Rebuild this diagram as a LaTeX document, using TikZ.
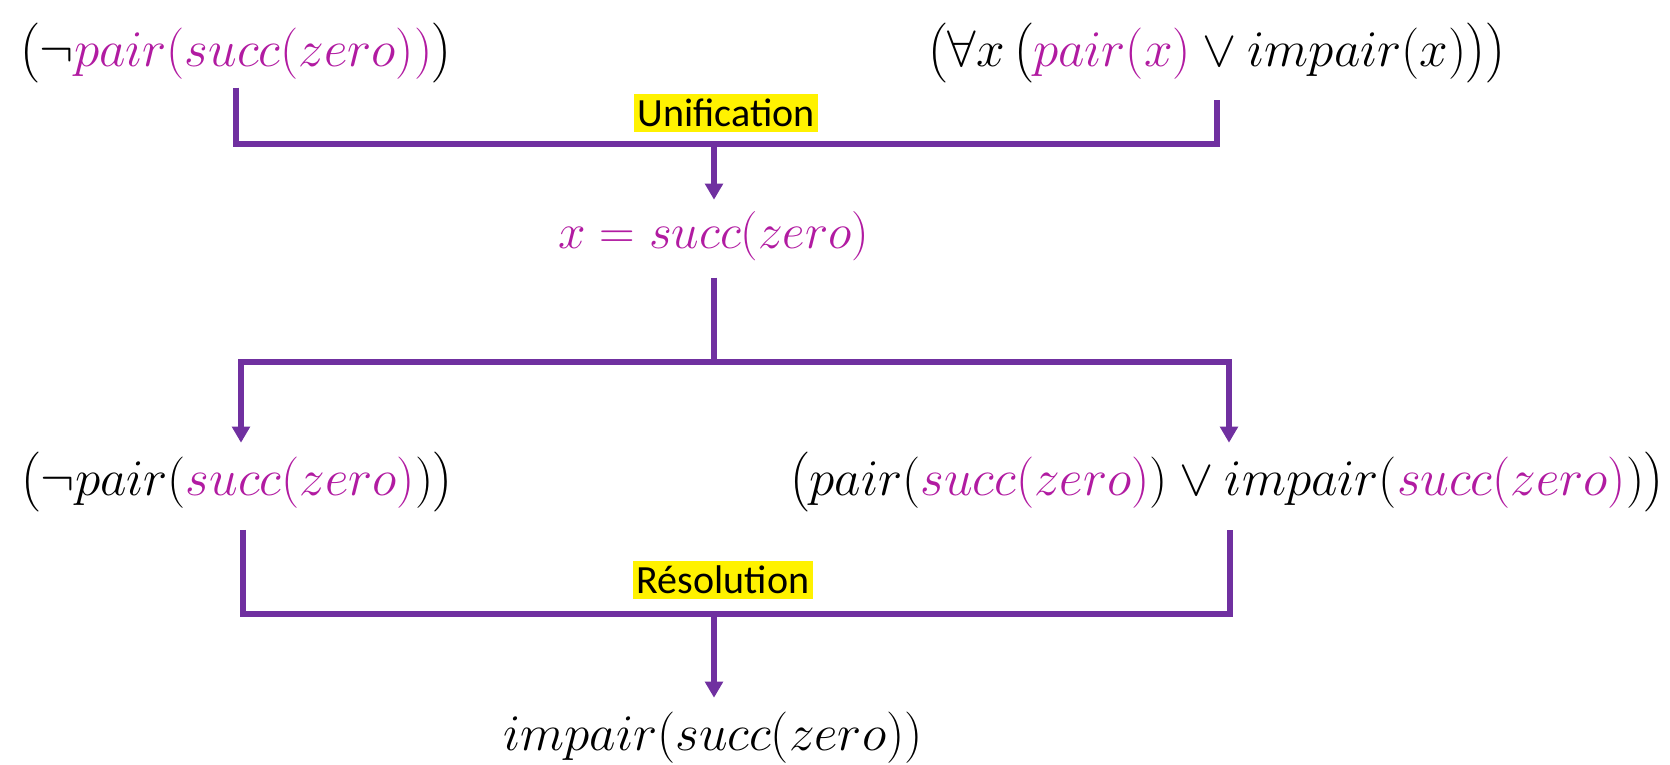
\RequirePackage{fix-cm}
\documentclass[tikz,border=0pt]{standalone}
\usepackage{amsmath}
\usepackage{fontspec}
\newfontfamily\labelfont{Carlito}
\usetikzlibrary{arrows.meta, positioning}
\definecolor{linepurple}{RGB}{112,48,160}
\definecolor{termmagenta}{RGB}{177,27,161}
\newcommand{\mg}[1]{\textcolor{termmagenta}{#1}}

\begin{document}
\begin{tikzpicture}[x=0.75pt, y=-0.75pt,
    formula/.style={anchor=base, inner sep=0pt, text height=39pt, text depth=26pt,
        font=\fontsize{38.5}{42}\selectfont},
    tag/.style={fill=yellow, inner xsep=3pt, inner ysep=4pt, font=\labelfont\fontsize{30}{34}\selectfont},
    bar/.style={linepurple, line width=4pt},
    arr/.style={bar, -{Triangle[length=12pt, width=13pt]}}]
    \useasboundingbox (0,0) rectangle (1670,764);

    % Premises
    \node[formula, text height=34pt, text depth=16pt] (topL) at (236,66) {$\bigl(\neg\mg{pair(succ(zero))}\bigr)$};
    \node[formula, text height=34pt, text depth=25pt] (topR) at (1217,66) {$\bigl(\forall x\,\bigl(\mg{pair(x)}\vee impair(x)\bigr)\bigr)$};

    % Unification
    \node[tag] (uniLbl) at (726,113) {Unification};
    \coordinate (uniJ) at (714,144);
    \draw[bar] (topL.south) |- (uniJ) -| (topR.south);
    \node[formula, text height=36pt, text depth=22pt, text=termmagenta,
        font=\fontsize{37}{40}\selectfont] (subst) at (714,248) {$x = succ(zero)$};
    \draw[arr] (uniJ) -- (uniJ |- subst.north);

    % Substitution in both clauses
    \coordinate (splitJ) at (714,362);
    \draw[bar] (subst.south) -- (splitJ);
    \node[formula] (midL) at (237,495) {$\bigl(\neg pair(\mg{succ(zero)})\bigr)$};
    \node[formula] (midR) at (1227,495) {$\bigl(pair(\mg{succ(zero)})\vee impair(\mg{succ(zero)})\bigr)$};
    \draw[arr] (splitJ) -| ([xshift=3pt]midL.north);
    \draw[arr] (splitJ) -| ([xshift=1.5pt]midR.north);

    % Resolution
    \node[tag] (resLbl) at (723,580) {Résolution};
    \coordinate (resJ) at (714,614);
    \draw[bar] ([xshift=4.5pt]midL.south) |- (resJ) -| ([xshift=2.25pt]midR.south);
    \node[formula] (concl) at (713,750) {$impair(succ(zero))$};
    \draw[arr] (resJ) -- (resJ |- concl.north);
\end{tikzpicture}
\end{document}
